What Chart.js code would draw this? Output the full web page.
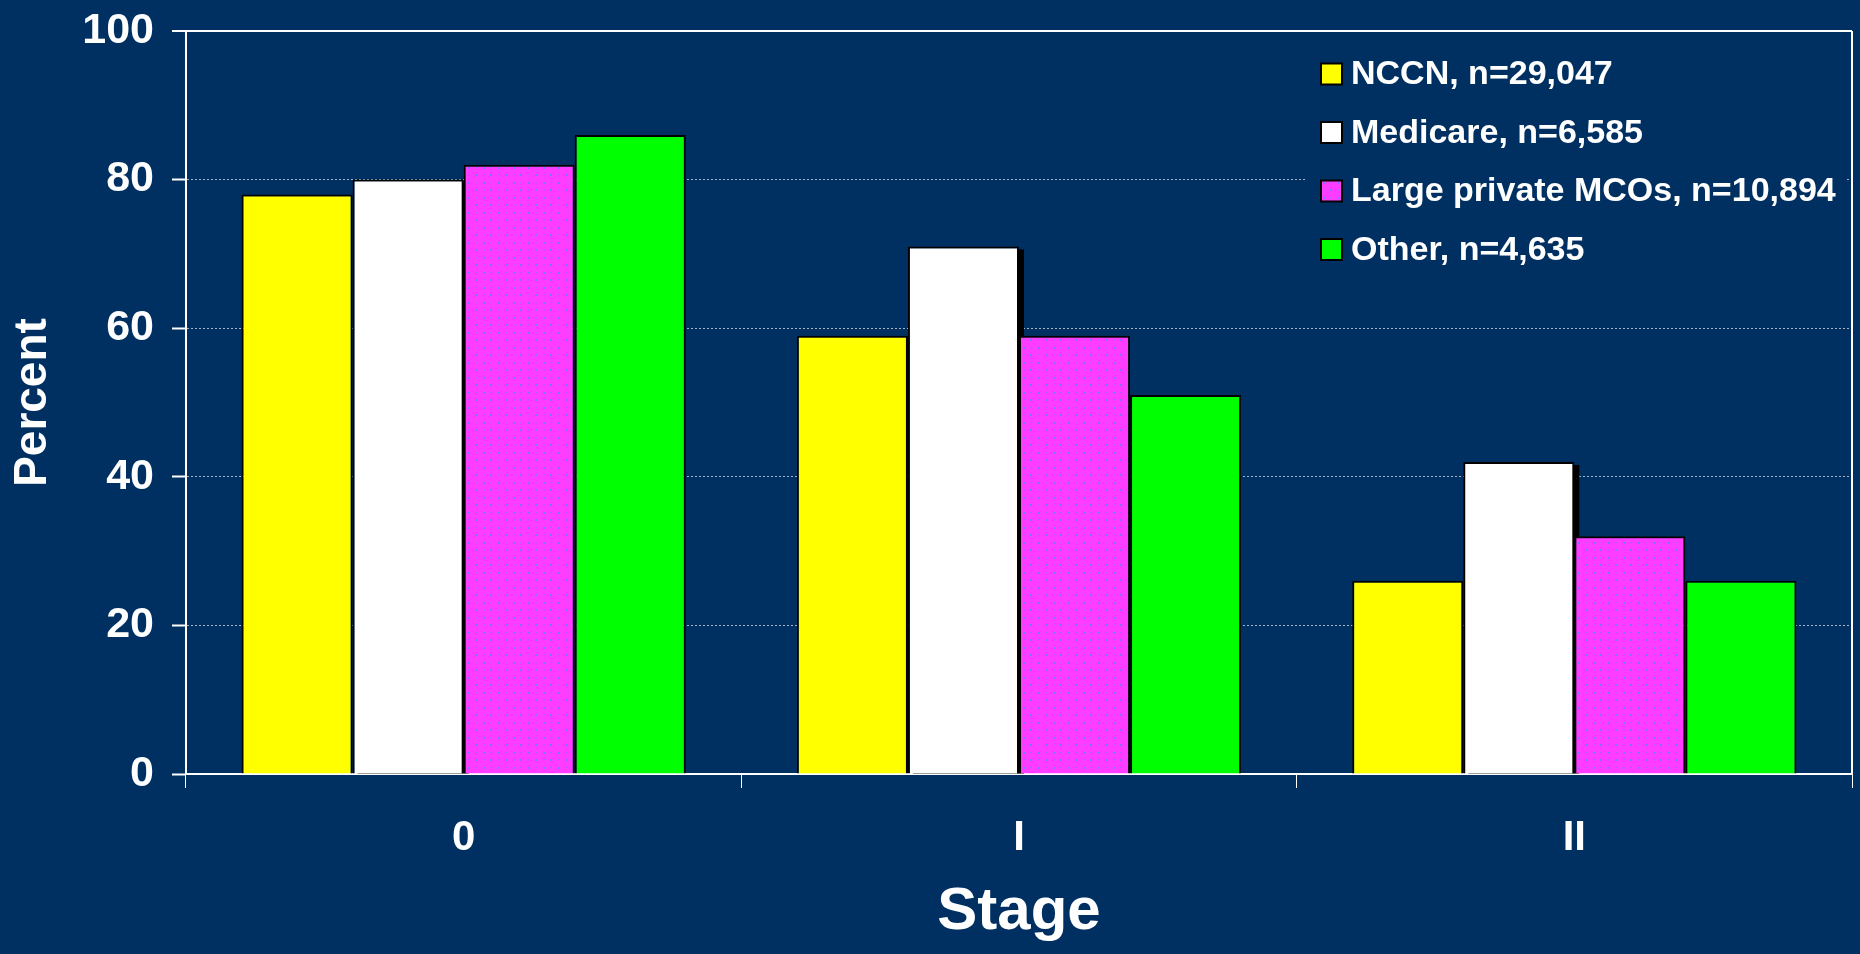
<!DOCTYPE html>
<html>
<head>
<meta charset="utf-8">
<script src="https://cdn.jsdelivr.net/npm/chart.js@4.4.1/dist/chart.umd.min.js"></script>
<style>
  html, body { margin: 0; padding: 0; background: #003062; }
  #wrap { width: 1860px; height: 954px; position: relative; }
  canvas { display: block; }
</style>
</head>
<body>
<div id="wrap"><canvas id="c" width="1860" height="954"></canvas></div>
<script>
// Stages on the x axis
const stages = ['0', 'I', 'II'];
// Series names shown in the legend
const seriesNames = ['NCCN, n=29,047', 'Medicare, n=6,585', 'Large private MCOs, n=10,894', 'Other, n=4,635'];
// Percent per stage for each group
const nccn = [78, 59, 26];
const medicare = [80, 71, 42];
const largeMCO = [82, 59, 32];
const other = [86, 51, 26];
// Y-axis tick values
const yTicks = [0, 20, 40, 60, 80, 100];

const BG = '#003062';
const FONT = "'Liberation Sans', Arial, Helvetica, sans-serif";
Chart.defaults.font.family = FONT;
Chart.defaults.color = '#ffffff';

const canvas = document.getElementById('c');
const ctx = canvas.getContext('2d');

// Magenta fill with a staggered blue dot texture
function dotPattern() {
  const t = document.createElement('canvas');
  t.width = 15; t.height = 15;
  const g = t.getContext('2d');
  g.fillStyle = '#ff3cff';
  g.fillRect(0, 0, 15, 15);
  g.fillStyle = '#7f72ff';
  g.fillRect(3, 2, 2, 2);
  g.fillRect(10, 9, 2, 2);
  g.fillStyle = 'rgba(127,114,255,0.6)';
  g.fillRect(3, 9, 2, 1);
  g.fillRect(10, 2, 2, 1);
  return ctx.createPattern(t, 'repeat');
}
const magenta = dotPattern();

// Hard black drop shadow behind the bars of flagged series
const barShadow = {
  id: 'barShadow',
  beforeDatasetsDraw(chart) {
    const c = chart.ctx;
    c.save();
    c.fillStyle = '#000000';
    chart.data.datasets.forEach((d, i) => {
      if (!d.dropShadow) return;
      chart.getDatasetMeta(i).data.forEach(bar => {
        const p = bar.getProps(['x', 'y', 'base', 'width'], true);
        c.fillRect(p.x - p.width / 2 + 5, p.y + 3, p.width, p.base - p.y - 3);
      });
    });
    c.restore();
  }
};

// Right-hand frame line of the plot area
const frame = {
  id: 'frame',
  afterDatasetsDraw(chart) {
    const { ctx: c, chartArea: a } = chart;
    c.save();
    c.strokeStyle = '#ffffff';
    c.lineWidth = 2;
    c.beginPath();
    c.moveTo(a.right, a.top);
    c.lineTo(a.right, a.bottom);
    c.stroke();
    c.restore();
  }
};

// Legend block in the upper right of the plot area
const boxLegend = {
  id: 'boxLegend',
  afterDraw(chart) {
    const { ctx: c, chartArea: a } = chart;
    const left = a.right - 546;
    c.save();
    c.fillStyle = BG;
    c.fillRect(left, a.top + 14, 540, 232);
    c.font = 'bold 34px ' + FONT;
    c.textBaseline = 'middle';
    c.textAlign = 'left';
    chart.data.datasets.forEach((d, i) => {
      const y = a.top + 43 + i * 58.5;
      const bx = a.right - 531;
      c.fillStyle = d.backgroundColor;
      c.fillRect(bx, y - 10.5, 21, 21);
      c.strokeStyle = '#000000';
      c.lineWidth = 2;
      c.strokeRect(bx, y - 10.5, 21, 21);
      c.fillStyle = '#ffffff';
      c.fillText(d.label, bx + 30, y + 1);
    });
    c.restore();
  }
};

const fills = ['#ffff00', '#ffffff', magenta, '#00ff00'];
const values = [nccn, medicare, largeMCO, other];
const shadowed = [false, true, false, false];

new Chart(canvas, {
  type: 'bar',
  data: {
    labels: stages,
    datasets: seriesNames.map((name, i) => ({
      label: name,
      data: values[i],
      backgroundColor: fills[i],
      borderColor: '#000000',
      borderWidth: 2,
      borderSkipped: 'start',
      categoryPercentage: 0.8,
      barPercentage: 1.0,
      dropShadow: shadowed[i]
    }))
  },
  options: {
    responsive: false,
    animation: false,
    devicePixelRatio: 1,
    layout: { padding: { top: 31, right: 8, left: 0, bottom: 0 } },
    plugins: { legend: { display: false }, tooltip: { enabled: false } },
    scales: {
      x: {
        grid: { offset: true, drawOnChartArea: false, drawTicks: true, tickLength: 14, color: '#ffffff', lineWidth: 1 },
        border: { color: '#ffffff', width: 2 },
        ticks: { color: '#ffffff', font: { size: 42, weight: 'bold' }, padding: 25 },
        title: { display: true, text: 'Stage', color: '#ffffff', font: { size: 60, weight: 'bold' }, padding: { top: 0, bottom: 6 } },
        afterFit(s) { s.height = 180; s.paddingLeft = 0; s.paddingRight = 0; }
      },
      y: {
        min: 0,
        max: 100,
        afterBuildTicks(s) { s.ticks = yTicks.map(v => ({ value: v })); },
        grid: {
          drawTicks: true,
          tickLength: 14,
          color: c => (c.tick && c.tick.value === 100) ? '#ffffff' : '#aab3c4',
          lineWidth: c => (c.tick && c.tick.value === 100) ? 2 : 1,
          tickColor: '#ffffff',
          tickWidth: 2,
          tickBorderDash: []
        },
        border: {
          color: '#ffffff',
          width: 2,
          dash: c => (c.tick && c.tick.value !== 100) ? [2, 2] : []
        },
        ticks: { color: '#ffffff', font: { size: 43, weight: 'bold' }, padding: 18 },
        title: { display: true, text: 'Percent', color: '#ffffff', font: { size: 46, weight: 'bold' }, padding: { top: 6, bottom: 0 } },
        afterFit(s) { s.width = 186; s.paddingTop = 0; s.paddingBottom = 0; }
      }
    }
  },
  plugins: [barShadow, frame, boxLegend]
});
</script>
</body>
</html>
